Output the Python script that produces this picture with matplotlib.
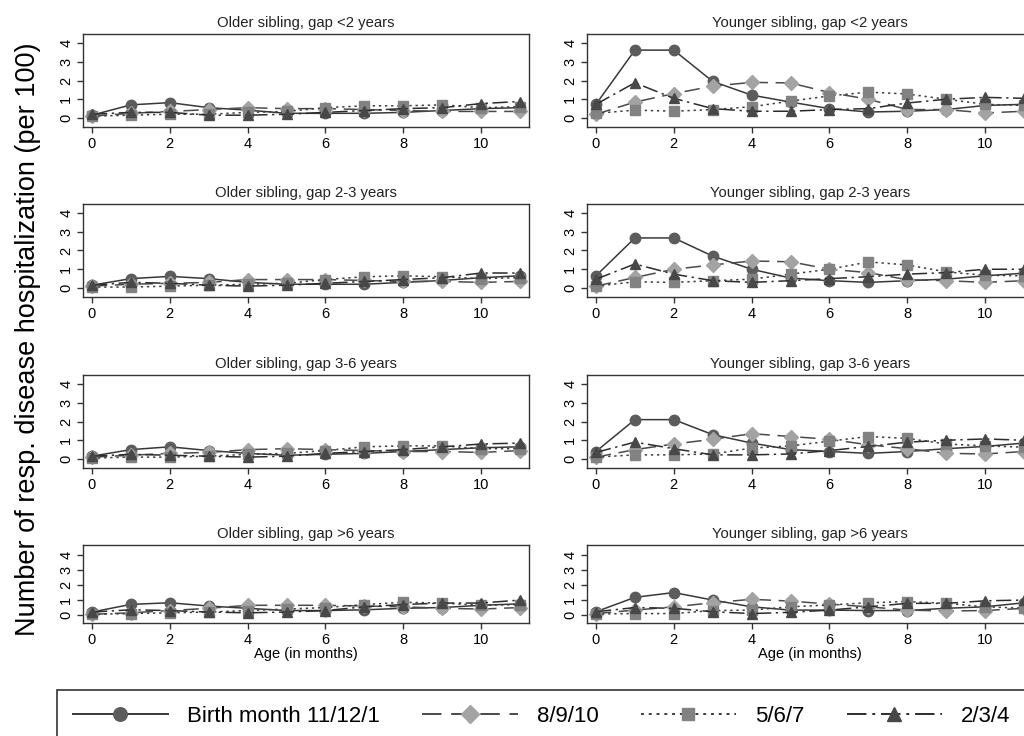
import matplotlib
matplotlib.use('Agg')
import matplotlib.pyplot as plt

plt.rcParams['font.family'] = ['Liberation Sans', 'DejaVu Sans']

ages = [0, 1, 2, 3, 4, 5, 6, 7, 8, 9, 10, 11]
series_labels = ['Birth month 11/12/1', '8/9/10', '5/6/7', '2/3/4']

# each panel: [11/12/1, 8/9/10, 5/6/7, 2/3/4]
older_lt2 = [
    [0.15, 0.70, 0.82, 0.55, 0.42, 0.25, 0.25, 0.25, 0.30, 0.40, 0.50, 0.55],
    [0.10, 0.25, 0.35, 0.45, 0.55, 0.50, 0.50, 0.45, 0.40, 0.35, 0.35, 0.35],
    [0.10, 0.15, 0.20, 0.20, 0.30, 0.35, 0.55, 0.65, 0.65, 0.70, 0.55, 0.60],
    [0.20, 0.30, 0.30, 0.15, 0.15, 0.20, 0.30, 0.40, 0.50, 0.55, 0.77, 0.88],
]
younger_lt2 = [
    [0.73, 3.62, 3.62, 1.95, 1.22, 0.85, 0.50, 0.32, 0.36, 0.45, 0.67, 0.73],
    [0.20, 0.85, 1.30, 1.70, 1.90, 1.87, 1.36, 1.00, 0.45, 0.45, 0.27, 0.36],
    [0.25, 0.42, 0.36, 0.45, 0.60, 0.90, 1.18, 1.38, 1.28, 1.00, 0.73, 0.67],
    [0.73, 1.88, 1.05, 0.50, 0.36, 0.36, 0.45, 0.50, 0.80, 1.00, 1.10, 1.05],
]
older_2_3 = [
    [0.15, 0.50, 0.62, 0.50, 0.30, 0.20, 0.20, 0.20, 0.30, 0.40, 0.55, 0.65],
    [0.10, 0.20, 0.25, 0.30, 0.45, 0.45, 0.45, 0.40, 0.35, 0.35, 0.30, 0.35],
    [0.05, 0.05, 0.10, 0.15, 0.20, 0.25, 0.45, 0.60, 0.65, 0.60, 0.50, 0.55],
    [0.15, 0.30, 0.25, 0.15, 0.10, 0.15, 0.25, 0.35, 0.45, 0.55, 0.80, 0.80],
]
younger_2_3 = [
    [0.65, 2.67, 2.67, 1.70, 1.00, 0.53, 0.39, 0.30, 0.39, 0.47, 0.65, 0.79],
    [0.10, 0.56, 1.00, 1.23, 1.44, 1.40, 1.00, 0.82, 0.44, 0.39, 0.30, 0.39],
    [0.10, 0.33, 0.30, 0.39, 0.47, 0.74, 1.00, 1.39, 1.23, 0.86, 0.68, 0.65],
    [0.47, 1.28, 0.74, 0.39, 0.30, 0.39, 0.50, 0.60, 0.74, 0.82, 1.00, 1.00],
]
older_3_6 = [
    [0.15, 0.50, 0.65, 0.45, 0.30, 0.20, 0.25, 0.30, 0.40, 0.50, 0.60, 0.65],
    [0.10, 0.20, 0.30, 0.35, 0.50, 0.55, 0.50, 0.45, 0.40, 0.40, 0.35, 0.45],
    [0.05, 0.10, 0.10, 0.15, 0.25, 0.30, 0.45, 0.65, 0.70, 0.70, 0.55, 0.55],
    [0.15, 0.25, 0.20, 0.15, 0.10, 0.15, 0.30, 0.40, 0.50, 0.65, 0.80, 0.85],
]
younger_3_6 = [
    [0.40, 2.10, 2.10, 1.30, 0.85, 0.50, 0.40, 0.30, 0.40, 0.55, 0.67, 0.85],
    [0.10, 0.50, 0.80, 1.05, 1.35, 1.20, 1.05, 0.76, 0.55, 0.30, 0.27, 0.40],
    [0.10, 0.22, 0.22, 0.27, 0.58, 0.70, 0.95, 1.20, 1.10, 0.80, 0.70, 0.63],
    [0.35, 0.90, 0.55, 0.22, 0.22, 0.27, 0.45, 0.67, 0.90, 1.00, 1.07, 1.00],
]
older_gt6 = [
    [0.20, 0.71, 0.82, 0.60, 0.45, 0.30, 0.30, 0.35, 0.45, 0.50, 0.65, 0.75],
    [0.05, 0.15, 0.30, 0.45, 0.65, 0.65, 0.65, 0.60, 0.55, 0.45, 0.40, 0.50],
    [0.05, 0.10, 0.15, 0.20, 0.30, 0.40, 0.50, 0.70, 0.85, 0.80, 0.65, 0.70],
    [0.20, 0.35, 0.30, 0.20, 0.15, 0.20, 0.30, 0.55, 0.70, 0.80, 0.80, 1.00],
]
younger_gt6 = [
    [0.22, 1.18, 1.50, 1.00, 0.55, 0.33, 0.33, 0.30, 0.30, 0.45, 0.55, 0.82],
    [0.10, 0.33, 0.55, 0.82, 1.05, 0.93, 0.73, 0.55, 0.33, 0.27, 0.30, 0.45],
    [0.07, 0.10, 0.10, 0.30, 0.33, 0.55, 0.67, 0.82, 0.90, 0.78, 0.55, 0.45],
    [0.22, 0.50, 0.45, 0.22, 0.10, 0.18, 0.33, 0.55, 0.78, 0.78, 0.95, 1.00],
]

panels = [
    (older_lt2, 'Older sibling, gap <2 years'),
    (younger_lt2, 'Younger sibling, gap <2 years'),
    (older_2_3, 'Older sibling, gap 2-3 years'),
    (younger_2_3, 'Younger sibling, gap 2-3 years'),
    (older_3_6, 'Older sibling, gap 3-6 years'),
    (younger_3_6, 'Younger sibling, gap 3-6 years'),
    (older_gt6, 'Older sibling, gap >6 years'),
    (younger_gt6, 'Younger sibling, gap >6 years'),
]

styles = [
    dict(color='#383838', ls='-', marker='o', mfc='#5c5c5c', mec='#5c5c5c', ms=7.5),
    dict(color='#4a4a4a', ls=(0, (10, 5)), marker='D', mfc='#a3a3a3', mec='#a3a3a3', ms=7),
    dict(color='#3c3c3c', ls=(0, (1.5, 2.5)), marker='s', mfc='#828282', mec='#828282', ms=7),
    dict(color='#2c2c2c', ls=(0, (10, 3, 1.5, 3)), marker='^', mfc='#484848', mec='#484848', ms=7.5),
]

W, H = 1024, 736
fig = plt.figure(figsize=(W / 100, H / 100), dpi=100)

col_left = [83, 587]
ax_w = 446
rows = [(34, 127), (204, 297), (375, 468), (545, 623)]

handles = []
for i, (vals, title) in enumerate(panels):
    r, c = divmod(i, 2)
    top, bot = rows[r]
    ax = fig.add_axes([col_left[c] / W, 1 - bot / H, ax_w / W, (bot - top) / H])
    for k in range(4):
        ln, = ax.plot(ages, vals[k], lw=1.1, label=series_labels[k], **styles[k])
        if i == 0:
            handles.append(ln)
    ax.set_xlim(-0.23, 11.23)
    if r < 3:
        ax.set_ylim(-0.48, 4.48)
    else:
        ax.set_ylim(-0.53, 4.67)
    ax.set_xticks([0, 2, 4, 6, 8, 10])
    ax.set_yticks([0, 1, 2, 3, 4])
    ax.tick_params(axis='both', direction='out', length=4, width=1, color='#333333',
                   labelsize=10.5, pad=3)
    for lab in ax.get_yticklabels():
        lab.set_rotation(90)
        lab.set_va('center')
    for sp in ax.spines.values():
        sp.set_color('#333333')
        sp.set_linewidth(1.0)
    ax.set_title(title, fontsize=10.7, pad=5, color='#222222')
    if r == 3:
        ax.set_xlabel('Age (in months)', fontsize=10.5, labelpad=0)

fig.text(28 / W, 1 - 339 / H, 'Number of resp. disease hospitalization (per 100)',
         rotation=90, ha='center', va='center', fontsize=19.5)

leg = fig.legend(handles, series_labels, loc='upper left', bbox_to_anchor=(57 / W, 1 - 690 / H),
                 ncol=4, handlelength=4.3, handletextpad=0.85, columnspacing=1.9,
                 borderpad=0.7, borderaxespad=0, numpoints=1, markerscale=1.3,
                 fontsize=16, fancybox=False, framealpha=1)
leg.get_frame().set_edgecolor('#333333')
leg.get_frame().set_linewidth(1.2)
for ln in leg.get_lines():
    ln.set_linewidth(1.4)

fig.savefig('out.png', dpi=100)
